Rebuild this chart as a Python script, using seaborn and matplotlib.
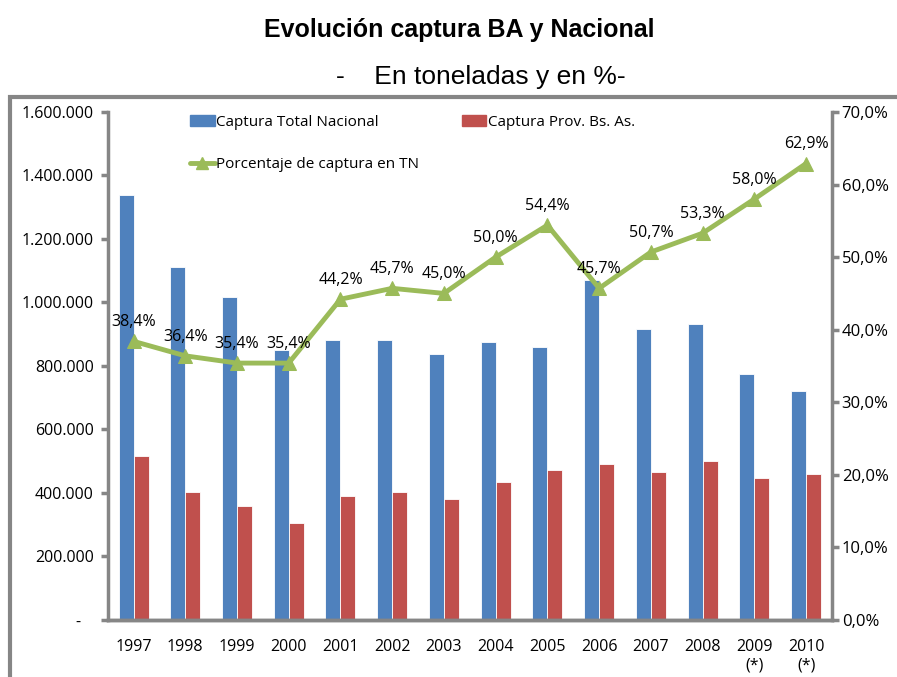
import numpy as np
import pandas as pd
import matplotlib
matplotlib.use("Agg")
import matplotlib.pyplot as plt
from matplotlib.lines import Line2D
from matplotlib.patches import Patch, Rectangle
import seaborn as sns

# data
years = ['1997', '1998', '1999', '2000', '2001', '2002', '2003',
         '2004', '2005', '2006', '2007', '2008', '2009\n(*)', '2010\n(*)']
nacional = [1340000, 1112000, 1018000, 851000, 881000, 881000, 837000,
            874000, 861000, 1070000, 918000, 932000, 775000, 722000]
bsas = [517000, 404000, 360000, 305000, 392000, 404000, 380000,
        436000, 473000, 492000, 467000, 500000, 448000, 461000]
pct = [38.4, 36.4, 35.4, 35.4, 44.2, 45.7, 45.0,
       50.0, 54.4, 45.7, 50.7, 53.3, 58.0, 62.9]

lbl_nac = 'Captura Total Nacional'
lbl_ba = 'Captura Prov. Bs. As.'
lbl_pct = 'Porcentaje de captura en TN'

c_blue = '#4F81BD'
c_red = '#C0504D'
c_green = '#9BBB59'
c_axis = '#868686'

df = pd.DataFrame({'Year': years * 2,
                   'Captura': nacional + bsas,
                   'Serie': [lbl_nac] * len(years) + [lbl_ba] * len(years)})

sns.set_style('white')
plt.rcParams['font.family'] = ['Open Sans', 'DejaVu Sans']
plt.rcParams['text.color'] = 'black'
plt.rcParams['xtick.labelcolor'] = 'black'
plt.rcParams['ytick.labelcolor'] = 'black'

fs = 11.5

fig = plt.figure(figsize=(8.97, 6.77), dpi=100)
ax = fig.add_axes([0.120, 0.0842, 0.8075, 0.7504])

sns.barplot(data=df, x='Year', y='Captura', hue='Serie',
            palette=[c_blue, c_red], width=0.58, saturation=1,
            edgecolor='white', linewidth=0.6, ax=ax, legend=False)
ax.set_xlim(-0.5, len(years) - 0.5)
ax.set_ylim(0, 1600000)
ax.set_yticks(np.arange(0, 1600001, 200000))
ax.set_yticklabels(['-   '] + ['{:,}'.format(v).replace(',', '.')
                                for v in range(200000, 1600001, 200000)])
ax.set_xlabel('')
ax.set_ylabel('')
ax.tick_params(axis='y', labelsize=fs, length=5, width=2.5, color=c_axis, pad=5)
ax.tick_params(axis='x', labelsize=fs, length=0, pad=14)
ax.set_xticks(np.arange(-0.5, len(years)), minor=True)
ax.tick_params(axis='x', which='minor', length=5, width=2.5, color=c_axis)

# percentage line on the right axis
ax2 = ax.twinx()
sns.lineplot(x=np.arange(len(years)), y=pct, ax=ax2, color=c_green,
             linewidth=3.5, marker='^', markersize=10, markeredgecolor=c_green)
ax2.set_ylim(0, 70)
ax2.set_yticks(np.arange(0, 71, 10))
ax2.set_yticklabels(['{:.1f}%'.format(v).replace('.', ',') for v in range(0, 71, 10)])
ax2.tick_params(axis='y', labelsize=fs + 0.5, length=5, width=2.5, color=c_axis, pad=2)
for i, p in enumerate(pct):
    ax2.annotate('{:.1f}%'.format(p).replace('.', ','), (i, p),
                 xytext=(0, 8), textcoords='offset points',
                 ha='center', va='bottom', fontsize=fs)

for a in (ax, ax2):
    a.spines['top'].set_visible(False)
    for side in ('left', 'right', 'bottom'):
        a.spines[side].set_color(c_axis)
        a.spines[side].set_linewidth(2.5)
ax2.spines['left'].set_visible(False)
ax.spines['right'].set_visible(False)

# legend
handles = [Patch(color=c_blue, label=lbl_nac),
           Line2D([], [], color=c_green, lw=3.5, marker='^', markersize=8, label=lbl_pct),
           Patch(color=c_red, label=lbl_ba)]
ax.legend(handles=handles, ncol=2, frameon=False, loc='upper left',
          bbox_to_anchor=(0.095, 1.022), fontsize=fs - 0.5, handlelength=1.6,
          handletextpad=0.1, columnspacing=2.8, labelspacing=1.8)

# titles
fig.text(0.512, 0.955, 'Evolución captura BA y Nacional', ha='center', va='center',
         fontsize=18, fontweight='bold', family='Liberation Sans')
fig.text(0.536, 0.887, '-    En toneladas y en %-', ha='center', va='center',
         fontsize=19, family='Liberation Sans')

# outer frame
fig.patches.append(Rectangle((10 / 897, -0.1), 1.2, (677 - 97) / 677 + 0.1,
                             transform=fig.transFigure, fill=False,
                             edgecolor=c_axis, linewidth=3))

fig.savefig('out.png', dpi=100)
